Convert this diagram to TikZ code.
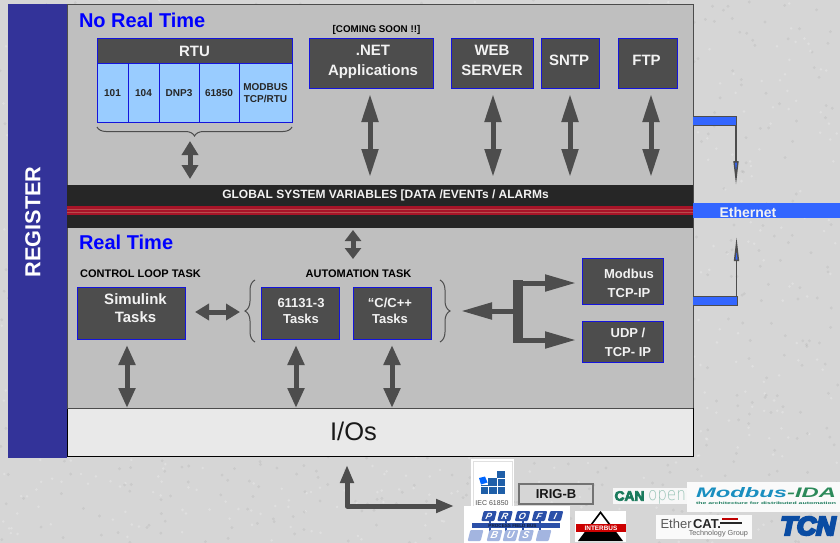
\documentclass[tikz,border=0pt]{standalone}
\usepackage{fontspec}
\setmainfont{Liberation Sans}
\newcommand{\heavytext}[3]{\special{pdf:code q 2 Tr #2 w #3 RG}#1\special{pdf:code Q}}
\usetikzlibrary{arrows.meta,decorations.pathreplacing}
\definecolor{bgc}{HTML}{D6D6D6}
\definecolor{panel}{HTML}{BFBFBF}
\definecolor{regblue}{HTML}{333399}
\definecolor{darkband}{HTML}{262626}
\definecolor{redb}{HTML}{A81428}
\definecolor{ethblue}{HTML}{3366FF}
\definecolor{boxg}{HTML}{4D4D4D}
\definecolor{boxedge}{HTML}{1414DC}
\definecolor{cellb}{HTML}{99CCFF}
\definecolor{iofill}{HTML}{E9E9E9}
\definecolor{logob}{HTML}{1F5FA8}
\definecolor{profib}{HTML}{2B50A8}
\definecolor{profil}{HTML}{A3B5E0}
\definecolor{cangreen}{HTML}{1A7A5C}
\definecolor{modblue}{HTML}{1A8FC0}
\definecolor{modgreen}{HTML}{2C8A5A}
\definecolor{tcnblue}{HTML}{0B4DA2}
\definecolor{offw}{HTML}{F2F2F2}
\newcommand{\fs}[1]{\fontsize{#1}{#1}\selectfont}
\tikzset{
  x=1pt,y=-1pt,
  every node/.style={inner sep=0pt,outer sep=0pt},
  darkbox/.style={fill=boxg,draw=boxedge,line width=1pt},
  boxtext/.style={text=offw,font=\bfseries,align=center},
  cell/.style={fill=cellb,draw=boxedge,line width=1pt,font=\fs{10}\bfseries,align=center,text=black!85},
  dbl/.style={draw=boxg,line width=5pt,
    {Triangle[length=#1,width=16pt]}-{Triangle[length=#1,width=16pt]}},
  dbl/.default=26pt,
  ethpipe/.style={fill=ethblue,draw=boxg,line width=1pt},
  ethline/.style={draw=boxg,line width=1.5pt,-{Triangle[length=24pt,width=5pt,fill=ethblue]}},
  sect/.style={font=\fs{20}\bfseries,text=blue,anchor=west},
  cap1/.style={font=\fs{11}\bfseries,text=black},
  brc/.style={draw=boxg,line width=1pt,decorate,decoration={brace,amplitude=#1}},
  tile/.style={fill=profib,text=white,font=\fs{9}\bfseries\itshape,minimum width=13pt,minimum height=10pt,rounded corners=1pt,xslant=.25,transform shape},
  ltile/.style={fill=profil,text=white,font=\fs{10}\bfseries\itshape,minimum width=13pt,minimum height=11pt,rounded corners=1pt,xslant=.25,transform shape},
}
\begin{document}
\begin{tikzpicture}
\useasboundingbox (0,0) rectangle (840,543);
\fill[bgc] (0,0) rectangle (840,543);
\pgfmathsetseed{7}
\foreach \i in {1,...,900}{
  \pgfmathsetmacro{\px}{rnd*840}
  \pgfmathsetmacro{\py}{rnd*543}
  \fill[white,opacity=.22] (\px,\py) circle (1.4pt);
  \pgfmathsetmacro{\qx}{rnd*840}
  \pgfmathsetmacro{\qy}{rnd*543}
  \fill[black,opacity=.05] (\qx,\qy) circle (1.6pt);
}
% main panels
\draw[fill=panel,draw=black!70,line width=1pt] (67,5) rectangle (693,408);
\draw[fill=iofill,draw=black,line width=1pt] (67,408) -- (693,408) -- (693,456) -- (67,456) -- cycle;
\draw[black!70,line width=1pt] (67,408) -- (693,408);
\node[font=\fs{25.5},text=black!90] (io) at (353.5,431) {I/Os};
\fill[regblue] (8,4) rectangle (67,458);
\node[rotate=90,font=\fs{21.7}\bfseries,text=white] (reg) at (33,222) {REGISTER};
% global band
\fill[darkband] (67,185) rectangle (693,228);
\fill[redb] (67,206) rectangle (693,215);
\draw[red!60!black!70!white,line width=.4pt] (67,209) -- (693,209) (67,212) -- (693,212);
\node[font=\fs{12}\bfseries,text=offw] (gsv) at (385.5,195) {GLOBAL SYSTEM VARIABLES [DATA /EVENTs / ALARMs};
% ethernet
\fill[ethblue] (693,203) rectangle (840,218);
\node[font=\fs{14}\bfseries,text=offw] (eth) at (748,212) {Ethernet};
\node[sect] (nrt) at (79,20.5) {No Real Time};
\node[sect] (rt) at (79,242.5) {Real Time};
% RTU block
\node[darkbox,boxtext,font=\fs{15}\bfseries,minimum width=195pt,minimum height=25pt] (rtu) at (194.5,51.5) {RTU};
\node[cell,minimum width=31pt,minimum height=58pt] (c1) at (112.5,93) {101};
\node[cell,minimum width=31pt,minimum height=58pt] (c2) at (143.5,93) {104};
\node[cell,minimum width=40pt,minimum height=58pt] (c3) at (179,93) {DNP3};
\node[cell,minimum width=40pt,minimum height=58pt] (c4) at (219,93) {61850};
\node[cell,minimum width=53pt,minimum height=58pt] (c5) at (265.5,93) {MODBUS\\[1.5pt]TCP/RTU};
\draw[brc=9pt] (292,127) -- (97,127);
% upper boxes
\node[font=\fs{9.8}\bfseries,text=black] (soon) at (376.5,29.5) {[COMING SOON !!]};
\node[darkbox,minimum width=124pt,minimum height=49pt] (net) at (371,63.5) {};
\node[boxtext,font=\fs{15}\bfseries] at (373,62) {.NET\\[4.5pt]Applications};
\node[darkbox,minimum width=82pt,minimum height=49pt] (web) at (492,63.5) {};
\node[boxtext,font=\fs{15}\bfseries] at (492,60.5) {WEB\\[4.5pt]SERVER};
\node[darkbox,minimum width=58pt,minimum height=49pt] (sntp) at (570,63.5) {};
\node[boxtext,font=\fs{15}\bfseries] at (569,60) {SNTP};
\node[darkbox,minimum width=59pt,minimum height=49pt] (ftp) at (647.5,63.5) {};
\node[boxtext,font=\fs{15}\bfseries] at (646.5,60) {FTP};
% lower boxes
\node[cap1] (clt) at (140.5,273.5) {CONTROL LOOP TASK};
\node[cap1] (aut) at (358.5,273.5) {AUTOMATION TASK};
\node[darkbox,minimum width=108pt,minimum height=52pt] (sim) at (131,313) {};
\node[boxtext,font=\fs{15}\bfseries] at (135.5,308) {Simulink\\[3pt]Tasks};
\node[darkbox,minimum width=78pt,minimum height=52pt] (t61) at (300,313) {};
\node[boxtext,font=\fs{13}\bfseries] at (301,311) {61131-3\\[3pt]Tasks};
\node[darkbox,minimum width=78pt,minimum height=52pt] (tc) at (392,313) {};
\node[boxtext,font=\fs{13}\bfseries] at (390,311) {“C/C++\\[3pt]Tasks};
\draw[brc=10pt] (255,342) -- (255,280);
\draw[brc=10pt] (440,280) -- (440,342);
\node[darkbox,minimum width=81pt,minimum height=46pt] (mod) at (622.5,281) {};
\node[boxtext,font=\fs{13}\bfseries] at (629,283) {Modbus\\[6pt]TCP-IP};
\node[darkbox,minimum width=81pt,minimum height=41pt] (udp) at (622.5,341.5) {};
\node[boxtext,font=\fs{13}\bfseries] at (628,342.5) {UDP /\\[6pt]TCP- IP};
% bus arrows
\coordinate (rtuA) at (190,141); \coordinate (rtuB) at (190,179);
\coordinate (netA) at (370,94); \coordinate (netB) at (370,177);
\coordinate (webA) at (493,94); \coordinate (webB) at (493,177);
\coordinate (sntA) at (570,94); \coordinate (sntB) at (570,177);
\coordinate (ftpA) at (651,94); \coordinate (ftpB) at (651,177);
\coordinate (gloA) at (353,230); \coordinate (gloB) at (353,259);
\coordinate (simL) at (195,312); \coordinate (simR) at (240,312);
\coordinate (sioA) at (127,345); \coordinate (sioB) at (127,408);
\coordinate (tioA) at (296,345); \coordinate (tioB) at (296,408);
\coordinate (cioA) at (392,345); \coordinate (cioB) at (392,408);
\draw[dbl=14pt] (rtuA) -- (rtuB);
\draw[dbl=28pt] (netA) -- (netB);
\draw[dbl=28pt] (webA) -- (webB);
\draw[dbl=28pt] (sntA) -- (sntB);
\draw[dbl=28pt] (ftpA) -- (ftpB);
\draw[dbl=11pt] (gloA) -- (gloB);
\draw[dbl=14pt] (simL) -- (simR);
\draw[dbl=20pt] (sioA) -- (sioB);
\draw[dbl=20pt] (tioA) -- (tioB);
\draw[dbl=20pt] (cioA) -- (cioB);
% forked arrow
\coordinate (fork) at (518,311);
\coordinate (forkT) at (518,283);
\coordinate (forkB) at (518,340);
\fill[boxg] (513,280) rectangle (523,343);
\draw[draw=boxg,line width=5pt,-{Triangle[length=31pt,width=16pt]}] (fork) -- (461,311);
\draw[draw=boxg,line width=5pt,-{Triangle[length=31pt,width=16pt]}] (forkT) -- (576,283);
\draw[draw=boxg,line width=5pt,-{Triangle[length=31pt,width=16pt]}] (forkB) -- (576,340);
% ethernet pipes
\coordinate (e1) at (736,126); \coordinate (e1t) at (736,185);
\coordinate (e2) at (736.5,296); \coordinate (e2t) at (736.5,237);
\draw[ethpipe] (693,116.5) -- (736,116.5) -- (736,125.5) -- (693,125.5);
\draw[ethpipe] (693,296.5) -- (737,296.5) -- (737,305) -- (693,305);
\draw[ethline] (e1) -- (e1t);
\draw[ethline] (e2) -- (e2t);
% IO arrow
\coordinate (ioA) at (347,506);
\draw[draw=boxg,line width=5pt,line join=round,{Triangle[length=18pt,width=13pt]}-{Triangle[length=18pt,width=13pt]}] (347,465) -- (ioA) -- (454,506);
% IEC logo
\fill[white] (471,459) rectangle (514,510);
\draw[black!12,line width=.6pt] (473,461) rectangle (512,508);
\fill[logob] (481,485) rectangle (488,494);
\fill[logob] (488,478) rectangle (497,494);
\fill[logob] (497,471) rectangle (505,494);
\draw[white,line width=.5pt] (481,486) -- (505,486) (497,478) -- (505,478) (488,486) -- (488,494) (497,478) -- (497,494);
\fill[blue!60!cyan] (479,478) -- (485,476.5) -- (487.5,482.5) -- (481,484.5) -- cycle;
\node[font=\fs{7},text=black!70] (iec) at (492,503) {IEC 61850};
% IRIG-B
\node[draw=black!55,line width=1.3pt,font=\fs{13}\bfseries,text=black!90,minimum width=74pt,minimum height=20pt] (irig) at (556,494) {IRIG-B};
% CANopen
\fill[white!94!gray] (613,488) rectangle (688,504);
\node[text=cangreen,anchor=west] (can) at (614.5,496) {\resizebox{30pt}{9.5pt}{\bfseries\heavytext{CAN}{0.5}{0.10 0.48 0.36}}};
\node[text=cangreen!45,anchor=west] (open) at (648,497) {\resizebox{38pt}{10pt}{\fontspec{DejaVu Sans ExtraLight}open}};
% Modbus IDA
\fill[white!96!gray] (687,482) rectangle (840,512);
\node[anchor=west] (mib) at (696,492.5) {\resizebox{140pt}{10pt}{\bfseries\itshape\textcolor{modblue}{Modbus}\textcolor{modgreen}{-IDA}}};
\node[text=cangreen,anchor=west] (mibs) at (696,503) {\resizebox{140pt}{2.6pt}{\bfseries the architecture for distributed automation}};
% Profibus
\fill[white] (464,506) rectangle (570,543);
\node[tile] (pp) at (489,516) {P};
\node[tile] (pr) at (505,516) {R};
\node[tile] (po) at (522.5,516) {O};
\node[tile] (pf) at (539.5,516) {F};
\node[tile] (pi) at (555.5,516) {I};
\fill[profib] (472,523) rectangle (560,528);
\foreach \tx in {489,505,522,539}{\fill[profib] (\tx,521) rectangle (\tx+1.5,531);}
\node[font=\fs{4.6}\bfseries,text=black!65!profib] (pfb) at (512.5,525.5) {PROCESS FIELD BUS};
\node[ltile] (pl) at (475.5,535.5) {};
\node[ltile] (pb) at (494.5,535.5) {B};
\node[ltile] (pu) at (510.5,535.5) {U};
\node[ltile] (ps) at (526,535.5) {S};
\node[ltile] (pe) at (543.5,535.5) {};
% Interbus
\fill[white] (575,511) rectangle (626,542);
\fill[black] (600.5,511) -- (623,541) -- (578,541) -- cycle;
\fill[white] (600.5,514) -- (611,528) -- (590,528) -- cycle;
\fill[red!80!black] (576,524) rectangle (626,531.5);
\node[font=\fs{6.4}\bfseries,text=white] (ibus) at (601,527.8) {INTERBUS};
% EtherCAT
\fill[white!96!gray] (656,515) rectangle (752,539);
\node[anchor=west,font=\fs{13},text=black!65] (ecat) at (660.5,524) {Ether};
\node[anchor=west,font=\fs{13}\bfseries,text=black!85] (ecat2) at (693,524) {CAT.};
\fill[red!75!black] (722,517.5) rectangle (738,519.5);
\fill[black!85] (720,522) rectangle (742,524);
\node[font=\fs{7.3},text=black!60,anchor=east] (tg) at (748,534) {Technology Group};
% TCN
\node[text=tcnblue] (tcn) at (808,526) {\resizebox{55pt}{18pt}{\bfseries\itshape\heavytext{TCN}{0.9}{0.04 0.30 0.64}}};
\end{tikzpicture}
\end{document}
